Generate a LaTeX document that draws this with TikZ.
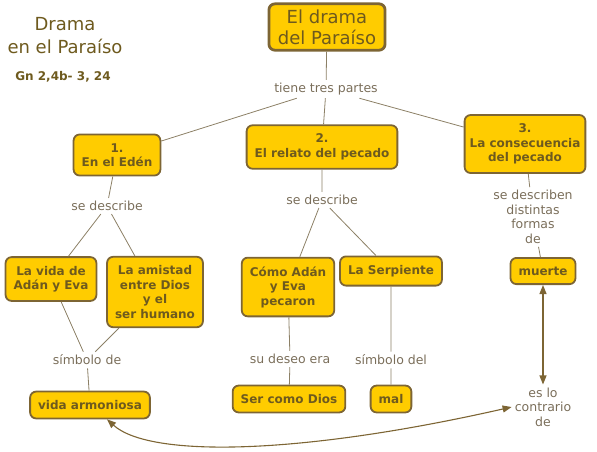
\documentclass[tikz,border=0pt]{standalone}
\usepackage{fontspec}
\setmainfont{DejaVu Sans}
\usetikzlibrary{arrows.meta}
\definecolor{oro}{HTML}{FFCC00}
\definecolor{borde}{HTML}{7D6534}
\definecolor{tinta}{HTML}{6E5A1E}
\definecolor{enlace}{HTML}{7A6E5A}
\definecolor{linea}{HTML}{8C8066}
\tikzset{concepto/.style={draw=borde, line width=1.8pt, fill=oro, rounded corners=6pt, align=center, text=tinta,
    font=\fontsize{12}{14.5}\selectfont\bfseries, inner xsep=8pt, inner ysep=8.8pt},
  frase/.style={align=center, text=enlace, font=\fontsize{12.5}{14.5}\selectfont, inner sep=3pt},
  con/.style={draw=linea, line width=0.8pt},
  flecha/.style={draw=borde, line width=1.1pt, {Triangle[length=9pt,width=7pt]}-{Triangle[length=9pt,width=7pt]}}}

\begin{document}
\begin{tikzpicture}[x=1pt,y=-1pt]
  \useasboundingbox (0,0) rectangle (597,451);
  % titulo
  \node[text=tinta, align=center, font=\fontsize{18}{23}\selectfont] (titulo) at (65,36) {Drama\\en el Paraíso};
  \node[text=tinta, font=\fontsize{12}{14}\selectfont\bfseries] (cita) at (63,77) {Gn 2,4b- 3, 24};
  \node[concepto, line width=2.8pt, font=\fontsize{18}{21}\selectfont, inner xsep=9pt, inner ysep=5.7pt] (raiz) at (327,27) {El drama\\del Paraíso};
  \node[frase] (tiene) at (326,89) {tiene tres partes};
  % las tres partes
  \node[concepto] (p1) at (117,155) {1.\\En el Edén};
  \node[concepto] (p2) at (322,147) {2.\\El relato del pecado};
  \node[concepto, inner xsep=5pt] (p3) at (525,144) {3.\\La consecuencia\\del pecado};
  \node[frase] (desc1) at (107,206) {se describe};
  \node[frase] (desc2) at (322,200) {se describe};
  \node[frase] (desc3) at (533,217) {se describen\\distintas\\formas\\de};
  \node[concepto] (vida) at (51,279) {La vida de\\Adán y Eva};
  \node[concepto] (amistad) at (155,292) {La amistad\\entre Dios\\y el\\ser humano};
  \node[concepto] (como) at (288,287) {Cómo Adán\\y Eva\\pecaron};
  \node[concepto] (serp) at (391,271) {La Serpiente};
  \node[concepto] (muerte) at (543,271) {muerte};
  \node[frase] (simb1) at (87,360) {símbolo de};
  \node[frase] (deseo) at (290,359) {su deseo era};
  \node[frase] (simb2) at (391,360) {símbolo del};
  \node[concepto] (armonia) at (90,405) {vida armoniosa};
  \node[concepto] (dios) at (289,399) {Ser como Dios};
  \node[concepto] (mal) at (391,399) {mal};
  \node[frase] (contr) at (543,407) {es lo\\contrario\\de};
  % conexiones
  \draw[con] (raiz)--(tiene) (tiene)--(p1) (tiene)--(p2) (tiene)--(p3);
  \draw[con] (p1)--(desc1) (desc1)--(vida) (desc1)--(amistad);
  \draw[con] (p2)--(desc2) (desc2)--(como) (desc2)--(serp);
  \draw[con] (p3)--(desc3) (desc3)--(muerte);
  \draw[con] (vida)--(simb1) (amistad)--(simb1) (simb1)--(armonia);
  \draw[con] (como)--(deseo) (deseo)--(dios) (serp)--(simb2) (simb2)--(mal);
  \draw[flecha] (muerte)--(contr);
  \draw[flecha] ([xshift=17pt]armonia.south) .. controls (150,458) and (300,455) .. (contr.west);
\end{tikzpicture}
\end{document}
